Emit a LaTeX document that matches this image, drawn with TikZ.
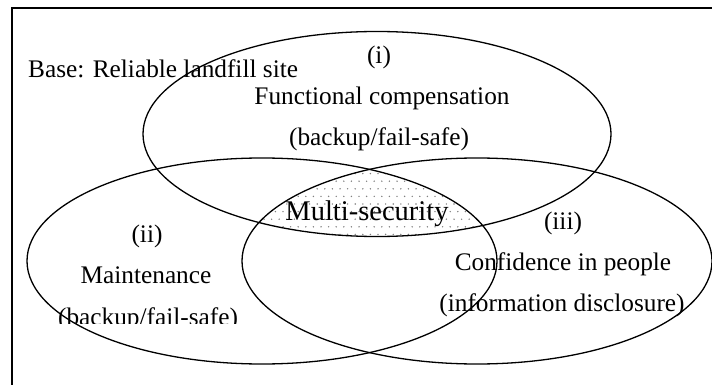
\documentclass[tikz,border=0pt]{standalone}
\usepackage{fontspec}
\setmainfont{Liberation Serif}
\begin{document}
\begin{tikzpicture}[x=1pt,y=-1pt,
  lab/.style={font=\fontsize{25.3}{30}\selectfont, inner sep=0pt, anchor=base},
  ell/.style={draw, line width=1.3pt},
  frameline/.style={draw, line width=2pt},
  dotfill/.style={fill=black!50}]
\useasboundingbox (0,0) rectangle (712,385);
% dotted intersection of the three ellipses
\begin{scope}
  \clip (377,134) ellipse [x radius=234, y radius=102.5];
  \clip (262,261) ellipse [x radius=235, y radius=103];
  \clip (477,261) ellipse [x radius=235, y radius=103];
  \foreach \i in {0,...,32} {
    \foreach \j in {0,...,12} {
      \fill[dotfill] ({245+\i*7.6+mod(\j,2)*3.8}, {166+\j*7.6}) circle (0.8);
    }
  }
\end{scope}
% frame
\draw[frameline] (12,385) -- (12,8) -- (712,8);
% ellipses
\draw[ell] (377,134) ellipse [x radius=234, y radius=102.5];
\draw[ell] (262,261) ellipse [x radius=235, y radius=103];
\draw[ell] (477,261) ellipse [x radius=235, y radius=103];
% texts
\node[lab, anchor=base west] (base) at (28,78) {Base: Reliable landfill site};
\node[lab] (ione) at (379,64) {(i)};
\node[lab] (func) at (382,105) {Functional compensation};
\node[lab] (bkone) at (379,146) {(backup/fail-safe)};
\node[lab, font=\fontsize{28.5}{32}\selectfont] (multi) at (367,220) {Multi-security};
\node[lab] (itwo) at (147,242) {(ii)};
\node[lab] (maint) at (146,283) {Maintenance};
\begin{scope}
  \clip (0,0) rectangle (712,323);
  \node[lab] (bktwo) at (148,325) {(backup/fail-safe)};
\end{scope}
\node[lab] (ithree) at (563,229) {(iii)};
\node[lab] (conf) at (563,270) {Confidence in people};
\node[lab] (info) at (562,311) {(information disclosure)};
\end{tikzpicture}
\end{document}
